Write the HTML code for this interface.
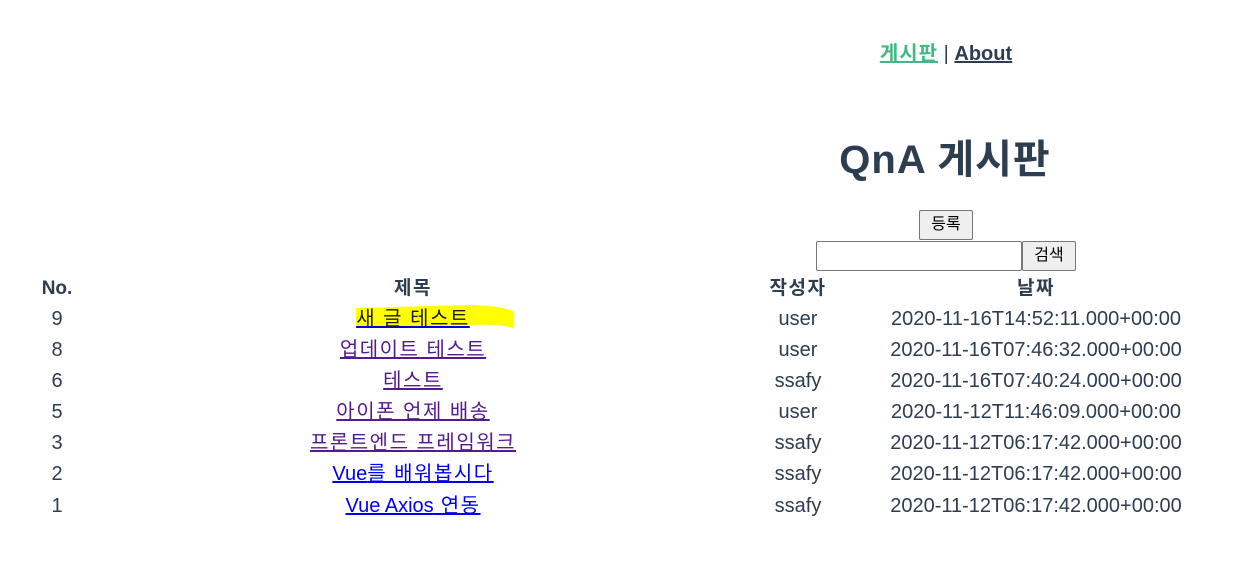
<!DOCTYPE html>
<html><head><meta charset="utf-8"><style>
body{margin:0;width:1234px;height:586px;background:#fff;position:relative;overflow:hidden;font-family:"Liberation Sans","Noto Sans CJK KR",sans-serif;color:#2c3e50}
.a{position:absolute;white-space:nowrap;transform:translateX(-50%)}
.r{font-size:20px;line-height:24px}
.h{font-size:19px;font-weight:bold;line-height:24px}
a{text-decoration:underline}
.v{color:#551a8b}.b{color:#0000ee}
.t{letter-spacing:1.5px}
.l{letter-spacing:0}
.btn{position:absolute;box-sizing:border-box;border:1px solid #767676;border-radius:2px;background:#efefef;font-size:16px;color:#000;text-align:center}
</style></head><body>
<div class="a" style="left:946px;top:41px;font-size:20px;font-weight:bold;line-height:26px"><a style="color:#42b983;letter-spacing:1px">게시판</a> <span style="font-weight:normal">|</span> <a style="color:#2c3e50">About</a></div>
<div class="a" style="left:945px;top:135px;font-size:40px;font-weight:bold;line-height:50px;letter-spacing:1px">QnA 게시판</div>
<div class="btn" style="left:919px;top:210px;width:54px;height:30px;line-height:28px">등록</div>
<div style="position:absolute;left:816px;top:241px;width:206px;height:30px;box-sizing:border-box;border:1px solid #767676;border-radius:2px"></div>
<div class="btn" style="left:1022px;top:241px;width:54px;height:30px;line-height:28px">검색</div>
<svg style="position:absolute;left:0;top:0" width="1234" height="586"><path d="M356 308 L470 305 Q505 306 514 312 L514 328 Q500 324 470 325 L356 328 Z" fill="#ffff00"/></svg>
<div class="a h" style="left:57px;top:277px">No.</div>
<div class="a h t" style="left:413px;top:277px">제목</div>
<div class="a h t" style="left:798px;top:277px">작성자</div>
<div class="a h t" style="left:1036px;top:277px">날짜</div>
<div id="rows"></div>
<script>
const nos=["9","8","6","5","3","2","1"];
const titles=["새 글 테스트","업데이트 테스트","테스트","아이폰 언제 배송","프론트엔드 프레임워크","Vue를 배워봅시다","Vue Axios 연동"];
const authors=["user","user","ssafy","user","ssafy","ssafy","ssafy"];
const dates=["2020-11-16T14:52:11.000+00:00","2020-11-16T07:46:32.000+00:00","2020-11-16T07:40:24.000+00:00","2020-11-12T11:46:09.000+00:00","2020-11-12T06:17:42.000+00:00","2020-11-12T06:17:42.000+00:00","2020-11-12T06:17:42.000+00:00"];
const visited=[0,1,1,1,1,0,0];
const rows=document.getElementById('rows');
const tops=[307,338,369,400,431,462,494];
nos.forEach((n,i)=>{
  const cells=[[57,n,'row-no'],[413,titles[i],'row-title'],[798,authors[i],'row-author'],[1036,dates[i],'row-date']];
  cells.forEach(([x,t,nm],j)=>{
    const d=document.createElement('div');
    d.className='a r';d.style.left=x+'px';d.style.top=tops[i]+'px';
    
    
    if(j===1){
      d.className='a r t';
      const a=document.createElement('a');
      a.className=visited[i]?'v':'b';
      if(i===0)a.style.color='#1a1a1a',a.style.textDecorationColor='#0000ee';
      t.split(/([A-Za-z]+(?: [A-Za-z]+)*)/).forEach(part=>{
        if(!part)return;
        if(/[A-Za-z]/.test(part)){const s=document.createElement('span');s.className='l';s.textContent=part;a.appendChild(s);}
        else a.appendChild(document.createTextNode(part));
      });
      
      
      d.appendChild(a);
    } else d.textContent=t;
    rows.appendChild(d);
  });
});
</script>
</body></html>
